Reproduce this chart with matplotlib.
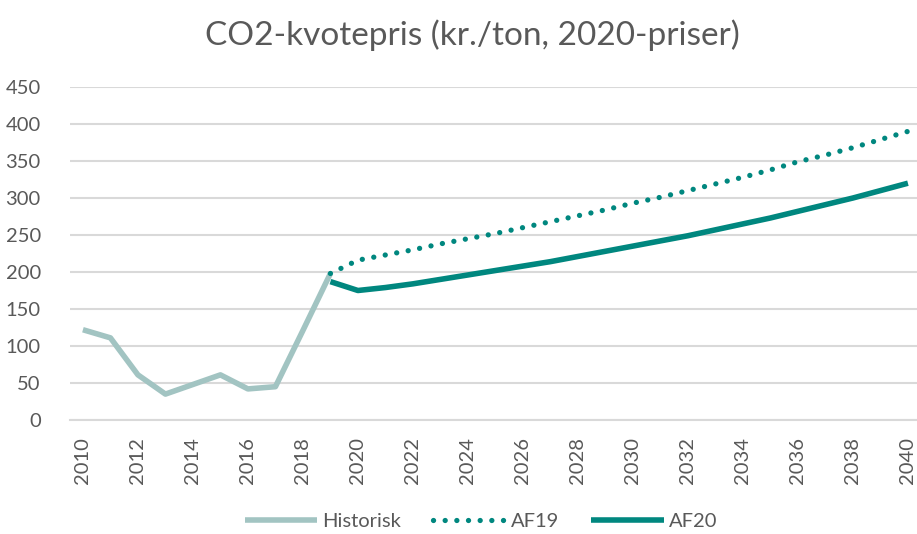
import matplotlib
matplotlib.use("Agg")
import matplotlib.pyplot as plt

plt.rcParams['font.family'] = ['Lato', 'DejaVu Sans']

hist_years = [2010, 2011, 2012, 2013, 2014, 2015, 2016, 2017, 2018, 2019]
hist_vals = [122, 111, 61, 35, 48, 61, 42, 45, 121, 198]

proj_years = list(range(2019, 2041))
af19_vals = [198, 216, 223, 230, 238, 245, 252, 260, 268, 276, 284, 293,
             301, 310, 319, 328, 338, 349, 358, 368, 379, 390]
af20_vals = [187, 175, 179, 184, 190, 196, 202, 208, 214, 221, 228, 235,
             242, 249, 257, 265, 273, 282, 291, 300, 310, 320]

y_ticks = [0, 50, 100, 150, 200, 250, 300, 350, 400, 450]
x_ticks = list(range(2010, 2041, 2))

title = "CO2-kvotepris (kr./ton, 2020-priser)"
labels = ["Historisk", "AF19", "AF20"]

c_hist = "#a2c4c2"
c_teal = "#00877f"
grid_c = "#d9d9d9"
text_c = "#595959"

W, H = 917, 534
fig = plt.figure(figsize=(W / 100, H / 100), dpi=100)
ax_l, ax_r, ax_t, ax_b = 70, 917, 87, 420
ax = fig.add_axes([ax_l / W, 1 - ax_b / H, (ax_r - ax_l) / W, (ax_b - ax_t) / H])

ax.plot(hist_years, hist_vals, color=c_hist, lw=4.0, solid_capstyle='butt',
        solid_joinstyle='round', label=labels[0], zorder=3)
ax.plot(proj_years, af19_vals, color=c_teal, lw=3.8, linestyle=(0, (0.01, 2.2)),
        dash_capstyle='round', label=labels[1], zorder=4)
ax.plot(proj_years, af20_vals, color=c_teal, lw=4.0, solid_capstyle='butt',
        solid_joinstyle='round', label=labels[2], zorder=4)

ax.set_xlim(2009.53, 2040.33)
ax.set_ylim(0, 450)
ax.set_yticks(y_ticks)
ax.set_xticks(x_ticks)
ax.set_xticklabels([str(x) for x in x_ticks], rotation=90)
ax.yaxis.grid(True, color=grid_c, lw=1.5)
ax.set_axisbelow(True)
for s in ['top', 'right', 'left']:
    ax.spines[s].set_visible(False)
ax.spines['bottom'].set_color(grid_c)
ax.spines['bottom'].set_linewidth(1.5)
ax.tick_params(axis='both', length=0, labelsize=14.5, labelcolor=text_c)
ax.tick_params(axis='y', pad=21)
ax.tick_params(axis='x', pad=12)
for lab in ax.get_yticklabels():
    lab.set_horizontalalignment('right')

fig.text(472 / W, 1 - 35 / H, title, ha='center', va='center', fontsize=24, color=text_c)

leg = fig.legend(loc='center', bbox_to_anchor=(481 / W, 1 - 521 / H), ncol=3, frameon=False,
                 fontsize=14.5, labelcolor=text_c, handlelength=3.6, handletextpad=0.25,
                 columnspacing=1.6)

fig.savefig("out.png", dpi=100)
